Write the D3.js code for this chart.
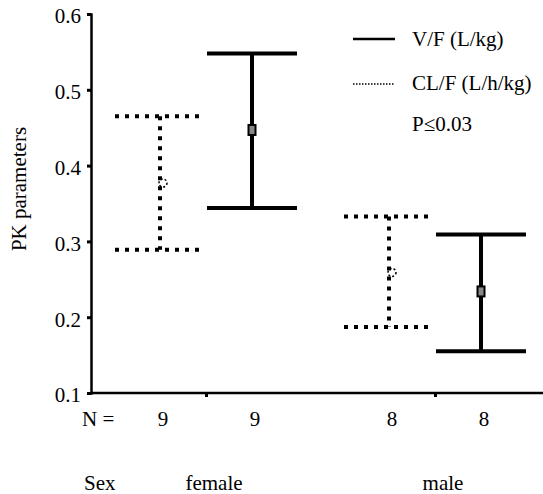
<!DOCTYPE html>
<html>
<head>
<meta charset="utf-8">
<script src="https://cdn.jsdelivr.net/npm/d3@7"></script>
</head>
<body style="margin:0;background:#fff">
<script>
// groups along the x axis
var groups = ["female", "male"];
var series = ["CL/F (L/h/kg)", "V/F (L/kg)"];
// N per group, per series
var nCL = [9, 8];
var nVF = [9, 8];
// CL/F mean and 95% CI
var clMean = [0.377, 0.259];
var clLow  = [0.289, 0.187];
var clHigh = [0.465, 0.333];
// V/F mean and 95% CI
var vfMean = [0.447, 0.234];
var vfLow  = [0.344, 0.155];
var vfHigh = [0.548, 0.309];
var yTicks = [0.1, 0.2, 0.3, 0.4, 0.5, 0.6];

var width = 543, height = 494;
var serif = "'Liberation Serif'";
var svg = d3.select("body").append("svg").attr("width", width).attr("height", height);

var yScale = d3.scaleLinear().domain([0.1, 0.6]).range([393, 14]);
var xScale = d3.scalePoint().domain(groups).range([206, 435]);
var offset = d3.scalePoint().domain(series).range([-46, 46]);

// axes
var yAxis = d3.axisLeft(yScale).tickValues(yTicks).tickSize(4).tickPadding(6)
    .tickFormat(d3.format(".1f"));
var gy = svg.append("g").attr("transform", "translate(91,0)").call(yAxis);
gy.select(".domain").attr("stroke", "#000").attr("stroke-width", 2.5);
gy.selectAll(".tick line").attr("stroke-width", 3);
gy.selectAll(".tick text").attr("dy", "0.42em")
    .style("font-family", serif).style("font-size", "21px").style("fill", "#000");

var xAxis = d3.axisBottom(d3.scaleLinear().domain([91, 543]).range([91, 543]))
    .tickValues(groups.map(function(g) { return xScale(g); })).tickSize(4).tickFormat("");
var gx = svg.append("g").attr("transform", "translate(0,393)").call(xAxis);
gx.select(".domain").attr("stroke", "#000").attr("stroke-width", 2.5).attr("d", "M91,0H543");
gx.selectAll(".tick line").attr("stroke-width", 3);

function label(x, y, txt, size, anchor) {
  return svg.append("text").attr("x", x).attr("y", y).attr("text-anchor", anchor || "start")
    .style("font-family", serif).style("font-size", (size || 21) + "px").text(txt);
}

// y title
label(0, 0, "PK parameters", 21, "middle").attr("transform", "translate(26,189) rotate(-90)");

// error bars
var clData = groups.map(function(g, i) {
  return { x: xScale(g) + offset(series[0]), mean: clMean[i], lo: clLow[i], hi: clHigh[i], n: nCL[i] };
});
var vfData = groups.map(function(g, i) {
  return { x: xScale(g) + offset(series[1]), mean: vfMean[i], lo: vfLow[i], hi: vfHigh[i], n: nVF[i] };
});

function drawBars(data, dash) {
  var g = svg.append("g").attr("stroke", "#000").attr("stroke-width", 4).attr("fill", "none");
  data.forEach(function(d) {
    var bar = g.append("g").attr("stroke-dasharray", dash);
    bar.append("line").attr("x1", d.x).attr("x2", d.x)
      .attr("y1", yScale(d.hi)).attr("y2", yScale(d.lo));
    [d.hi, d.lo].forEach(function(v) {
      bar.append("line").attr("x1", d.x - 45).attr("x2", d.x + 45)
        .attr("y1", yScale(v)).attr("y2", yScale(v));
    });
  });
}
drawBars(clData, "4,6");
drawBars(vfData, null);

// mean markers
svg.selectAll(".clm").data(clData).enter().append("circle")
  .attr("cx", function(d) { return d.x + 3; }).attr("cy", function(d) { return yScale(d.mean); })
  .attr("r", 4).attr("fill", "none").attr("stroke", "#000").attr("stroke-width", 1.5)
  .attr("stroke-dasharray", "2,2");
svg.selectAll(".vfm").data(vfData).enter().append("rect")
  .attr("x", function(d) { return d.x - 3.5; }).attr("y", function(d) { return yScale(d.mean) - 5; })
  .attr("width", 7).attr("height", 10).attr("fill", "#888").attr("stroke", "#000").attr("stroke-width", 2);

// N row
label(82, 426, "N =");
clData.concat(vfData).forEach(function(d) { label(d.x + 3, 426, d.n, 21, "middle"); });

// group labels
label(84, 490, "Sex");
groups.forEach(function(g) { label(xScale(g) + 8, 490, g, 21, "middle"); });

// legend
svg.append("line").attr("x1", 353).attr("x2", 395).attr("y1", 39).attr("y2", 39)
  .attr("stroke", "#000").attr("stroke-width", 2.5);
label(412, 46, series[1], 21);
svg.append("line").attr("x1", 353).attr("x2", 395).attr("y1", 84).attr("y2", 84)
  .attr("stroke", "#000").attr("stroke-width", 1.5).attr("stroke-dasharray", "1.5,1.5");
label(412, 90, series[0], 21);
label(412, 131, "P\u22640.03", 21);
</script>
</body>
</html>
